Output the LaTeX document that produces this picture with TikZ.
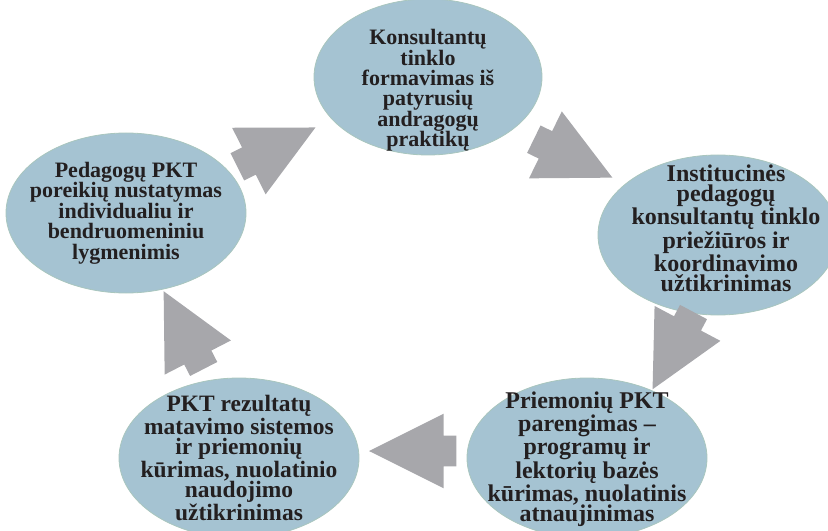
\documentclass[tikz,border=0pt]{standalone}
\usepackage{fontspec}
\setmainfont{Liberation Serif}
\usetikzlibrary{shapes.geometric,shapes.arrows,calc}
\definecolor{phasefill}{HTML}{A5C3D2}
\definecolor{phaseline}{HTML}{A9C6BE}
\definecolor{arrowgray}{HTML}{A7A7AB}
\definecolor{textblack}{HTML}{231F20}
\tikzset{
  phase/.style={ellipse,draw=phaseline,line width=0.6pt,fill=phasefill,minimum width=180pt,minimum height=120pt,inner sep=0pt},
  phasetext/.style={align=center,text=textblack,font=\bfseries\fontsize{#1}{15.3}\selectfont,inner sep=0pt},
  phasetext/.default=16.5,
  cyclearrow/.style={single arrow,anchor=tail,fill=arrowgray,draw=none,minimum height=65.6pt,minimum width=0pt,single arrow head extend=16.5pt,single arrow tip angle=53.1,inner xsep=0pt,inner ysep=11.25pt}
}

\begin{document}
\begin{tikzpicture}[x=0.75pt,y=-0.75pt]
  \clip (0,0) rectangle (828,531);
  \node[phase] (needs) at (126,213) {};
  \node[phase,minimum width=171pt,minimum height=117pt] (network) at (428,77) {};
  \node[phase] (oversight) at (718,235) {};
  \node[phase] (tools) at (587,458) {};
  \node[phase] (results) at (239,458) {};
  \node[phasetext] (needstext) at (needs) {Pedagogų PKT\\poreikių nustatymas\\individualiu ir\\bendruomeniniu\\lygmenimis};
  \node[phasetext] (networktext) at ([yshift=-10pt]network.center) {Konsultantų\\tinklo\\formavimas iš\\patyrusių\\andragogų\\praktikų};
  \node[phasetext=18] (oversighttext) at ([xshift=6pt,yshift=5pt]oversight.center) {Institucinės\\pedagogų\\konsultantų tinklo\\priežiūros ir\\koordinavimo\\užtikrinimas};
  \node[phasetext=18] (toolstext) at ([yshift=-1pt]tools.center) {Priemonių PKT\\parengimas --\\programų ir\\lektorių bazės\\kūrimas, nuolatinis\\atnaujinimas};
  \node[phasetext=17.6] (resultstext) at (results) {PKT rezultatų\\matavimo sistemos\\ir priemonių\\kūrimas, nuolatinio\\naudojimo\\užtikrinimas};
  % block arrows round the cycle
  \path let \p1=($(network)-(needs)$), \n1={atan2(\y1,\x1)} in node[cyclearrow,rotate=\n1+2.5] (needsnet) at ($(needs)!0.5!(network)!32.8pt!(needs)+(0,4)$) {};
  \path let \p1=($(oversight)-(network)$), \n1={atan2(\y1,\x1)} in node[cyclearrow,rotate=\n1+2.5] (netover) at ($(network)!0.5!(oversight)!32.8pt!(network)+(-1,4)$) {};
  \path let \p1=($(tools)-(oversight)$), \n1={atan2(\y1,\x1)} in node[cyclearrow,rotate=\n1+2.5] (overtools) at ($(oversight)!0.5!(tools)!32.8pt!(oversight)+(19,3)$) {};
  \path let \p1=($(results)-(tools)$), \n1={atan2(\y1,\x1)} in node[cyclearrow,rotate=\n1] (toolsres) at ($(tools)!0.5!(results)!32.8pt!(tools)+(0,-7)$) {};
  \path let \p1=($(needs)-(results)$), \n1={atan2(\y1,\x1)} in node[cyclearrow,rotate=\n1+2.5] (resneeds) at ($(results)!0.5!(needs)!32.8pt!(results)+(3,-6)$) {};
\end{tikzpicture}
\end{document}
